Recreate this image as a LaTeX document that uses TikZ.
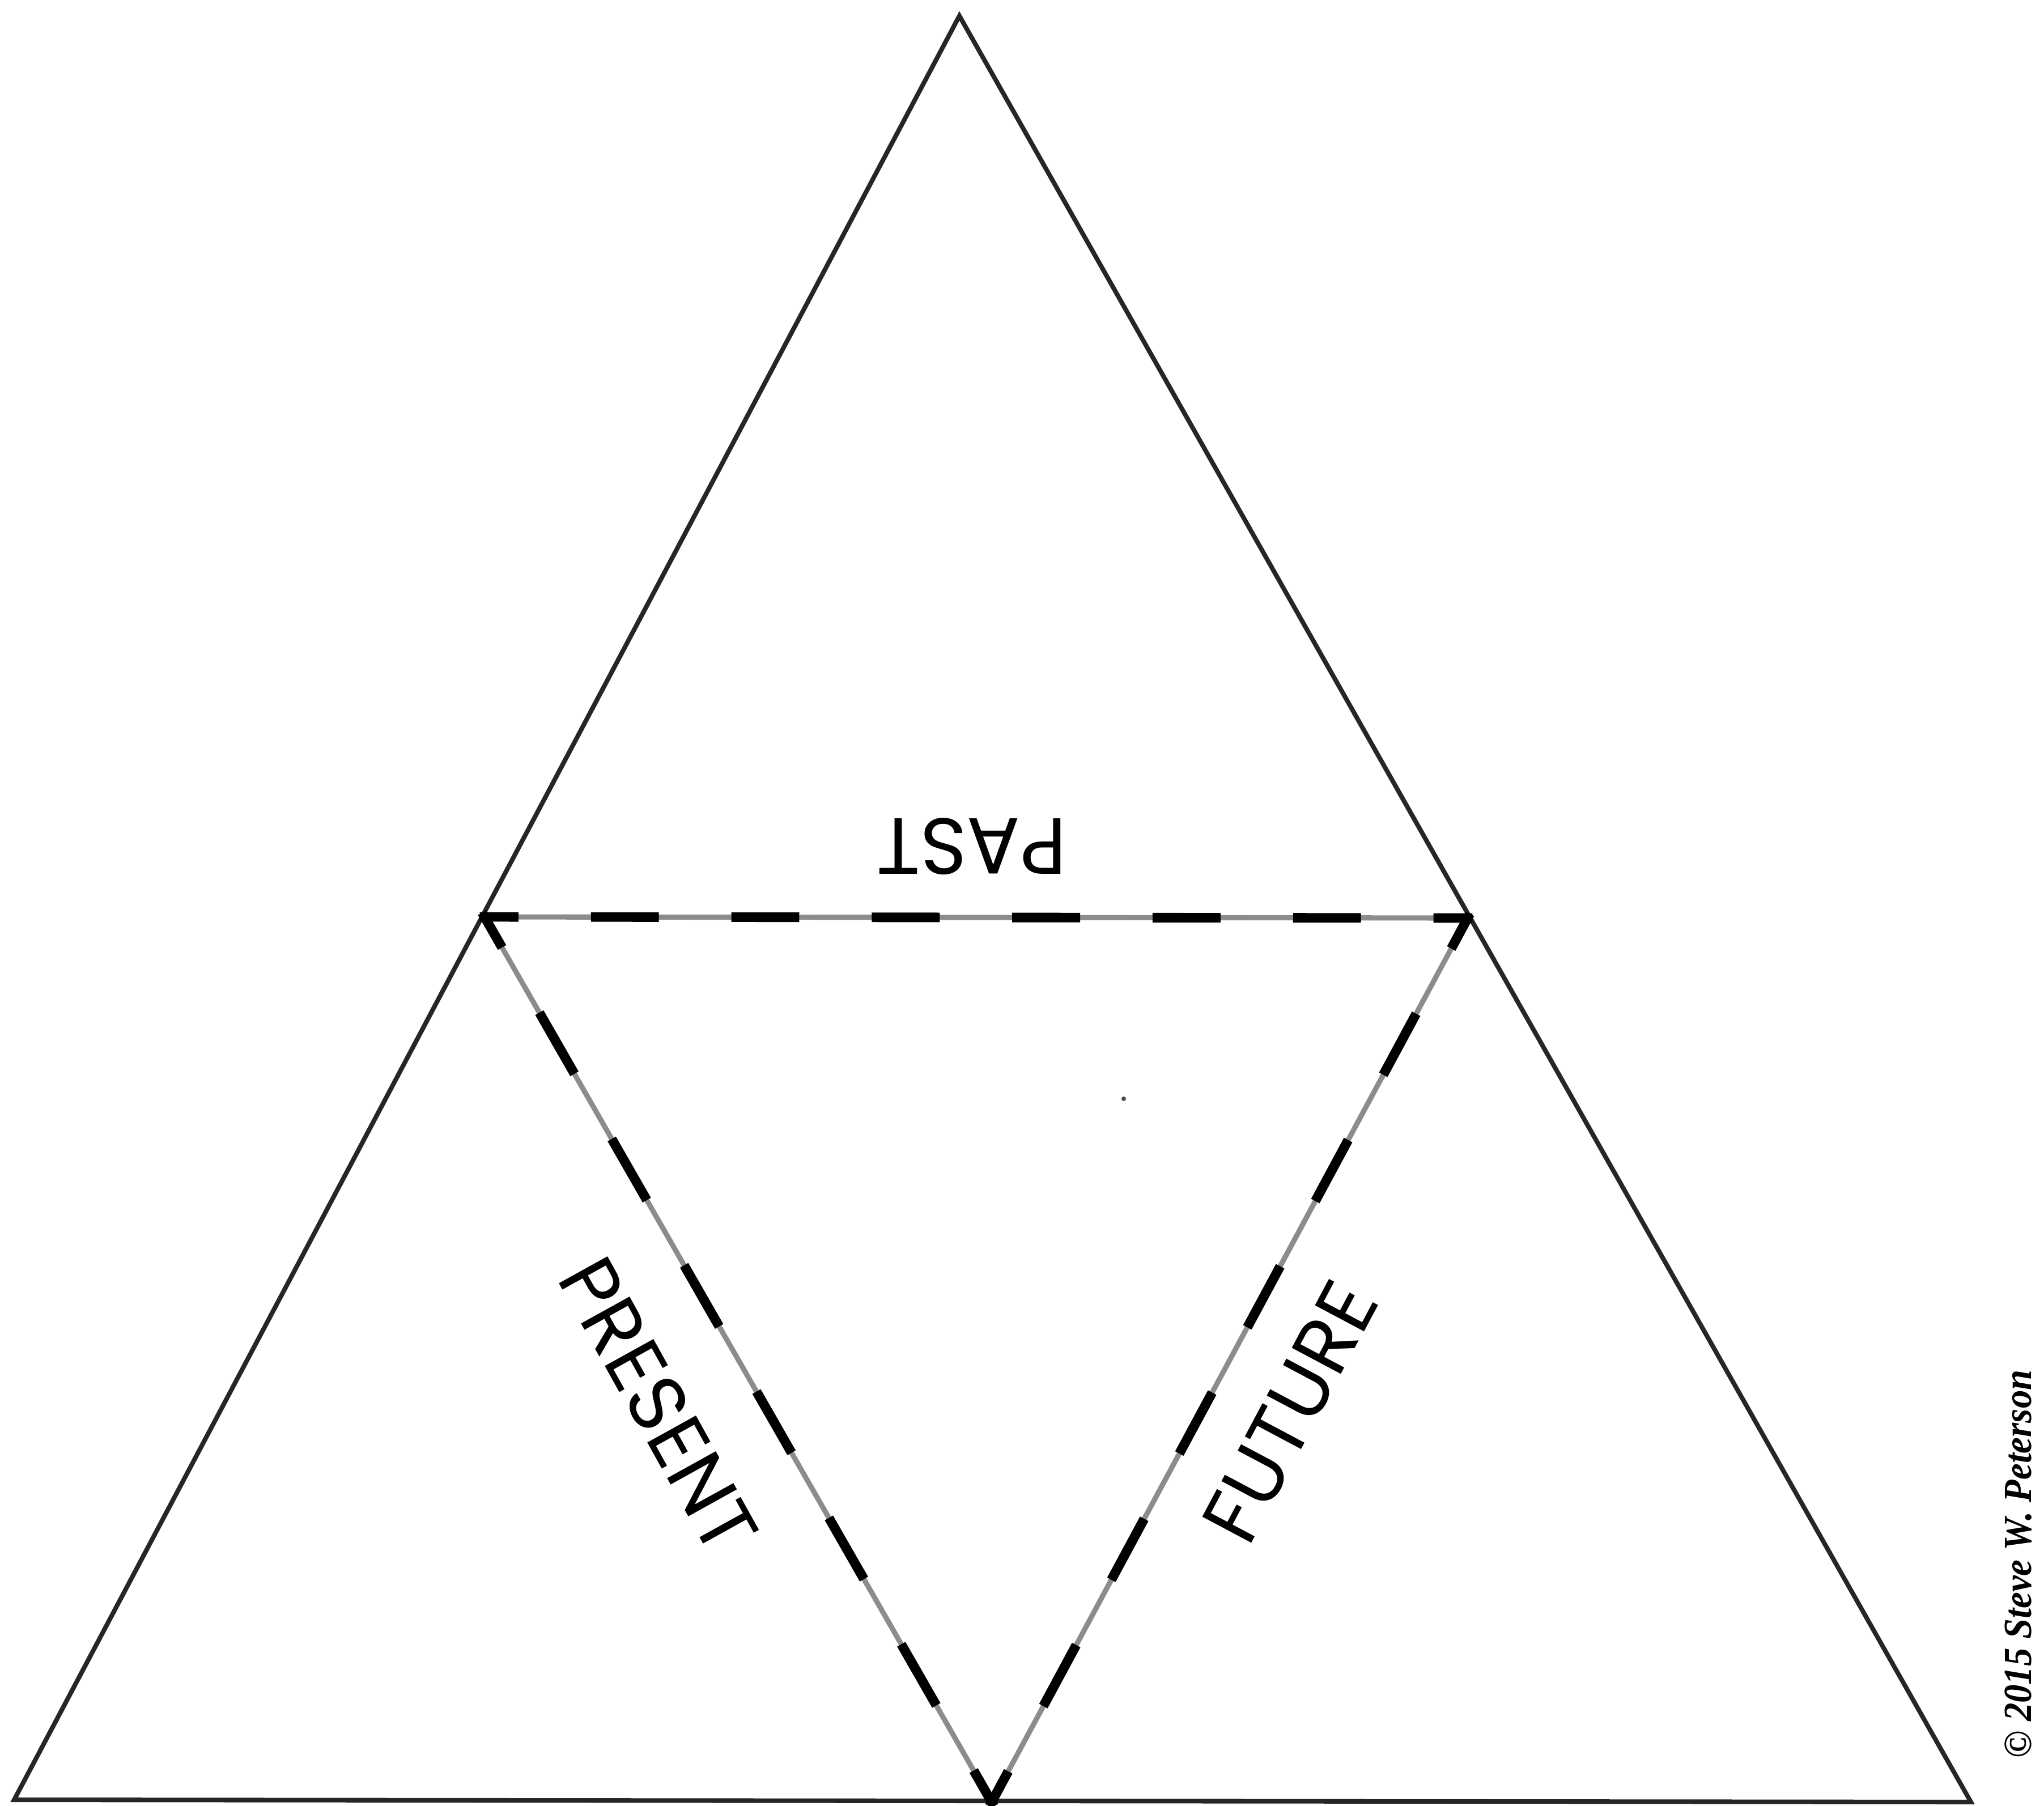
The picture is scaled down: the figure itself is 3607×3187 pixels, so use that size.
\documentclass[tikz,border=0pt]{standalone}
\usepackage{fontspec}
\usepackage{graphicx}
\newfontfamily\wordfont{Poppins}
\newfontfamily\notefont{Liberation Serif}

\begin{document}
\begin{tikzpicture}[
        x=0.1mm, y=-0.1mm,
        % outer triangle and the light fold lines
        rim/.style={draw=black!85, line width=2.3pt, line join=miter},
        fold/.style={draw=black!45, line width=2.6pt},
        cut/.style={line width=4.8pt, line cap=rect},
        word/.style={font=\wordfont\fontsize{40}{48}\selectfont, inner sep=0pt}
    ]
    \useasboundingbox (0,0) rectangle (3607,3187);

    % corners
    \coordinate (apex) at (1693,28);
    \coordinate (baseL) at (25,3176);
    \coordinate (baseR) at (3478,3180);
    \coordinate (midL) at (855,1618);
    \coordinate (midR) at (2590,1620);
    \coordinate (baseM) at (1750,3180);

    % Lines
    \draw[rim] (apex) -- (baseL) -- (baseR) -- cycle;
    \draw[fold] (midL) -- (midR) -- (baseM) -- cycle;

    % Dashed inner triangle
    \draw[cut, dash pattern=on 29.3pt off 41.2pt, dash phase=14.65pt] (midL) -- (midR);
    \draw[cut, dash pattern=on 30.6pt off 42.5pt, dash phase=15.3pt] (midL) -- (baseM);
    \draw[cut, dash pattern=on 30pt off 42pt, dash phase=15pt] (midR) -- (baseM);

    \fill[black!70] (1983,1939) circle (4);

    % Labels
    \node[word, rotate=180] (past) at (1715,1494) {PAST};
    \node[word, rotate=-61] (present) at (1162,2480) {PRESENT};
    \node[word, rotate=62] (future) at (2277,2491) {FUTURE};

    \node[rotate=90, inner sep=0pt] (credit) at (3562,2760)
        {\scalebox{0.92}[1]{\notefont\fontsize{20}{24}\selectfont\bfseries\itshape \textcopyright{} 2015 Steve W. Peterson}};

\end{tikzpicture}
\end{document}
